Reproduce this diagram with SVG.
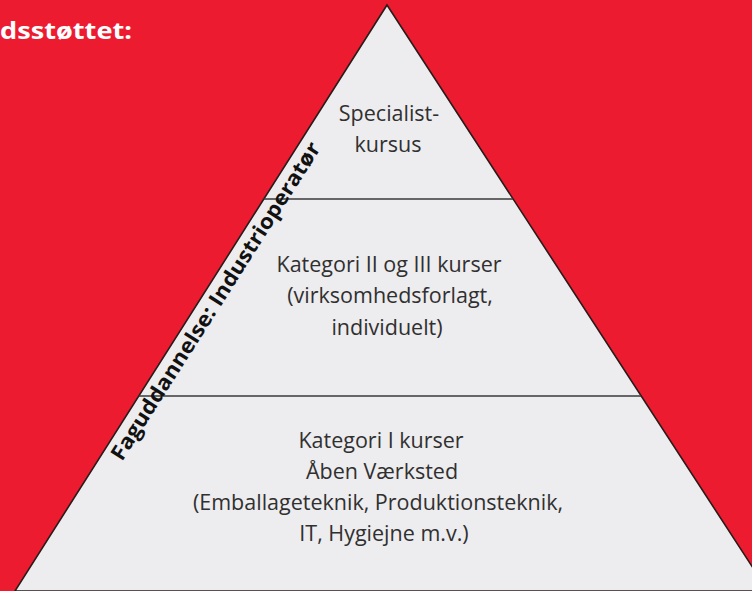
<svg xmlns="http://www.w3.org/2000/svg" width="752" height="591" viewBox="0 0 752 591">
  <style>
    .body { font-family: "Open Sans", "Noto Sans", "Liberation Sans", sans-serif; font-size: 21.5px; fill: #303030; text-anchor: middle; }
    .bold { font-family: "Open Sans", "Noto Sans", "Liberation Sans", sans-serif; font-weight: 700; }
    .div { stroke: #3a3a3a; stroke-width: 1.5; fill: none; }
  </style>
  <rect x="0" y="0" width="752" height="591" fill="#ED1B2F"/>
  <text class="bold" x="132" y="39" font-size="24" fill="#ffffff" text-anchor="end" textLength="132" lengthAdjust="spacingAndGlyphs">dsstøttet:</text>
  <g id="pyramid">
    <polygon points="387,5 15,591 768,591" fill="#EDECEF" stroke="#2a1a1a" stroke-width="1.6" stroke-linejoin="miter"/>
  </g>
  <g id="connectors">
    <line class="div" x1="263.8" y1="199" x2="513" y2="199"/>
    <line class="div" x1="138.7" y1="396" x2="641" y2="396"/>
  </g>
  <g id="tier-top">
    <text class="body" x="389" y="121">Specialist-</text>
    <text class="body" x="388" y="152">kursus</text>
  </g>
  <g id="tier-middle">
    <text class="body" x="389" y="272">Kategori II og III kurser</text>
    <text class="body" x="390" y="303">(virksomhedsforlagt,</text>
    <text class="body" x="387" y="335">individuelt)</text>
  </g>
  <g id="tier-bottom">
    <text class="body" x="381" y="448">Kategori I kurser</text>
    <text class="body" x="382" y="479">Åben Værksted</text>
    <text class="body" x="378" y="510">(Emballageteknik, Produktionsteknik,</text>
    <text class="body" x="384" y="541">IT, Hygiejne m.v.)</text>
  </g>
  <g id="side-label">
    <text class="bold" transform="translate(122,462) rotate(-57.6)" x="0" y="0" font-size="21" fill="#111111" textLength="372" lengthAdjust="spacingAndGlyphs">Faguddannelse: Industrioperatør</text>
  </g>
</svg>
